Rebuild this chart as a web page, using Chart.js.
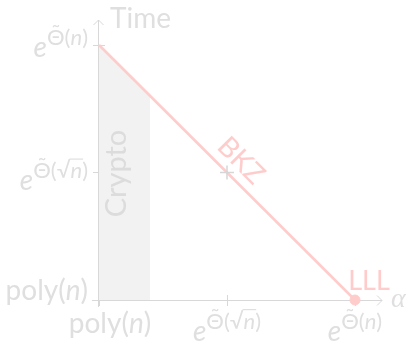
<!DOCTYPE html>
<html>
<head>
<meta charset="utf-8">
<script src="https://cdn.jsdelivr.net/npm/chart.js@4/dist/chart.umd.min.js"></script>
<style>
    html, body { margin: 0; padding: 0; background: #fff; }
</style>
</head>
<body>
<canvas id="timeChart" width="410" height="343"></canvas>
<script>
// tick positions and labels ('^' starts the superscript)
const xTickValues = [0, 1, 2];
const xTickLabels = ['poly(n)', 'e^\u0398\u0303(\u221An)', 'e^\u0398\u0303(n)'];
const yTickValues = [0, 1, 2];
const yTickLabels = ['poly(n)', 'e^\u0398\u0303(\u221An)', 'e^\u0398\u0303(n)'];

// BKZ trade-off line, LLL end point, crypto region, marked point
const bkzX = [0, 2];
const bkzY = [2, 0];
const lllX = [2];
const lllY = [0];
const cryptoX = [0, 0.4];
const cryptoY = [2, 1.6];
const markX = [1];
const markY = [1];

const GRAY = '#dfdfdf';
const AXIS = '#d8d8d8';
const PINK = '#ffcccc';
const FONT = 'Lato, "Open Sans", sans-serif';

function toPoints(xs, ys) {
    return xs.map((x, i) => ({ x: x, y: ys[i] }));
}

// draw a small math-ish label: base + superscript, italic e/n, tilde and sqrt bar
function drawMath(ctx, label, x, y, align, color) {
    const parts = label.split('^');
    const runs = [{ text: parts[0], size: 28, rise: 0 }];
    if (parts[1]) runs.push({ text: parts[1], size: 22, rise: 12 });

    const glyphs = [];
    let w = 0;
    let rootNext = false;
    runs.forEach(run => {
        for (const ch of run.text) {
            if (ch === '\u0303') {
                glyphs[glyphs.length - 1].tilde = true;
                continue;
            }
            const italic = (ch === 'e' || ch === 'n');
            const font = (italic ? 'italic ' : '') + run.size + 'px ' + FONT;
            ctx.font = font;
            const m = ctx.measureText(ch);
            glyphs.push({ ch: ch, font: font, x: w, w: m.width, rise: run.rise, size: run.size,
                          bar: rootNext, top: m.actualBoundingBoxAscent });
            rootNext = (ch === '\u221A');
            w += m.width;
        }
    });

    let x0 = x;
    if (align === 'right') x0 = x - w;
    if (align === 'center') x0 = x - w / 2;

    ctx.save();
    ctx.fillStyle = color;
    ctx.strokeStyle = color;
    ctx.textBaseline = 'alphabetic';
    ctx.textAlign = 'left';
    glyphs.forEach((g, i) => {
        const by = y - g.rise;
        ctx.font = g.font;
        ctx.fillText(g.ch, x0 + g.x, by);
        if (g.tilde) {
            ctx.font = g.size + 'px ' + FONT;
            const tw = ctx.measureText('\u02DC').width;
            ctx.fillText('\u02DC', x0 + g.x + (g.w - tw) / 2, by - g.size * 0.24);
        }
        if (g.bar) {
            const root = glyphs[i - 1];
            ctx.lineWidth = 1.2;
            ctx.beginPath();
            const ty = by - root.top + 0.6;
            ctx.moveTo(x0 + root.x + root.w - 1, ty);
            ctx.lineTo(x0 + g.x + g.w + 1, ty);
            ctx.stroke();
        }
    });
    ctx.restore();
}

const axesPlugin = {
    id: 'axesPlugin',
    beforeDatasetsDraw(chart) {
        const ctx = chart.ctx;
        const xs = chart.scales.x, ys = chart.scales.y;
        const ox = xs.getPixelForValue(0), oy = ys.getPixelForValue(0);
        const right = chart.chartArea.right, top = chart.chartArea.top;
        ctx.save();
        ctx.strokeStyle = AXIS;
        ctx.lineWidth = 1;
        ctx.beginPath();
        // x axis with arrow
        ctx.moveTo(ox - 7, oy + 0.5); ctx.lineTo(right, oy + 0.5);
        ctx.moveTo(right - 5, oy - 4.5); ctx.lineTo(right, oy + 0.5); ctx.lineTo(right - 5, oy + 5.5);
        // y axis with arrow
        ctx.moveTo(ox - 0.5, oy + 7); ctx.lineTo(ox - 0.5, top);
        ctx.moveTo(ox - 5.5, top + 5); ctx.lineTo(ox - 0.5, top); ctx.lineTo(ox + 4.5, top + 5);
        // ticks
        xTickValues.forEach(v => {
            const px = Math.round(xs.getPixelForValue(v)) + 0.5;
            ctx.moveTo(px, oy - 5); ctx.lineTo(px, oy + 6);
        });
        yTickValues.forEach(v => {
            const py = Math.round(ys.getPixelForValue(v)) + 0.5;
            ctx.moveTo(ox - 6, py); ctx.lineTo(ox + 6, py);
        });
        ctx.stroke();
        ctx.restore();
    },
    afterDraw(chart) {
        const ctx = chart.ctx;
        const xs = chart.scales.x, ys = chart.scales.y;
        const ox = xs.getPixelForValue(0), oy = ys.getPixelForValue(0);

        // tick labels
        const xDx = [11, 0, 0], xBase = [333, 341, 341];
        xTickValues.forEach((v, i) => {
            drawMath(ctx, xTickLabels[i], xs.getPixelForValue(v) + xDx[i], xBase[i], 'center', GRAY);
        });
        const yDy = [0, 18, 12];
        yTickValues.forEach((v, i) => {
            drawMath(ctx, yTickLabels[i], ox - 11, ys.getPixelForValue(v) + yDy[i], 'right', GRAY);
        });

        ctx.save();
        ctx.fillStyle = GRAY;
        ctx.textBaseline = 'alphabetic';
        ctx.font = '28px ' + FONT;
        ctx.fillText('Time', ox + 11, 28);
        ctx.font = 'italic 28px "Liberation Serif", serif';
        ctx.fillText('\u03B1', chart.chartArea.right + 9, oy + 7);

        // Crypto, rotated along the shaded strip
        ctx.save();
        ctx.translate(xs.getPixelForValue(0.2) - 8, ys.getPixelForValue(1) + 1);
        ctx.rotate(-Math.PI / 2);
        ctx.textAlign = 'center';
        ctx.textBaseline = 'middle';
        ctx.fillStyle = '#dcdcdc';
        ctx.font = '29px ' + FONT;
        ctx.fillText('Crypto', 0, 0);
        ctx.restore();

        // BKZ along the line
        ctx.save();
        ctx.translate(xs.getPixelForValue(1) + 14, ys.getPixelForValue(1) - 12);
        ctx.rotate(Math.PI / 4);
        ctx.textAlign = 'center';
        ctx.textBaseline = 'middle';
        ctx.fillStyle = PINK;
        ctx.font = '28px ' + FONT;
        ctx.fillText('BKZ', 0, 0);
        ctx.restore();

        // LLL above the end point
        ctx.fillStyle = PINK;
        ctx.font = '27px ' + FONT;
        ctx.textAlign = 'center';
        ctx.fillText('LLL', xs.getPixelForValue(2) + 14, oy - 10);
        ctx.restore();
    }
};

const ctx = document.getElementById('timeChart').getContext('2d');
const timeChart = new Chart(ctx, {
    type: 'scatter',
    data: {
        datasets: [
            {
                data: toPoints(markX, markY),
                pointStyle: 'cross',
                pointRadius: 7,
                borderColor: '#d6d6d6',
                borderWidth: 1.5,
                showLine: false,
                clip: false,
                order: 0
            },
            {
                data: toPoints(lllX, lllY),
                pointRadius: 5,
                backgroundColor: PINK,
                borderColor: PINK,
                showLine: false,
                clip: false,
                order: 1
            },
            {
                data: toPoints(bkzX, bkzY),
                showLine: true,
                borderColor: PINK,
                borderWidth: 2.6,
                pointRadius: 0,
                clip: false,
                order: 2
            },
            {
                data: toPoints(cryptoX, cryptoY),
                showLine: true,
                fill: 'origin',
                backgroundColor: '#f2f2f2',
                borderWidth: 0,
                pointRadius: 0,
                order: 3
            }
        ]
    },
    options: {
        responsive: false,
        animation: false,
        events: [],
        layout: { padding: { left: 99, right: 28, top: 20, bottom: 43 } },
        scales: {
            x: { type: 'linear', min: 0, max: 2.211, display: false },
            y: { type: 'linear', min: 0, max: 2.196, display: false }
        },
        plugins: {
            legend: { display: false },
            tooltip: { enabled: false }
        }
    },
    plugins: [axesPlugin]
});
</script>
</body>
</html>
